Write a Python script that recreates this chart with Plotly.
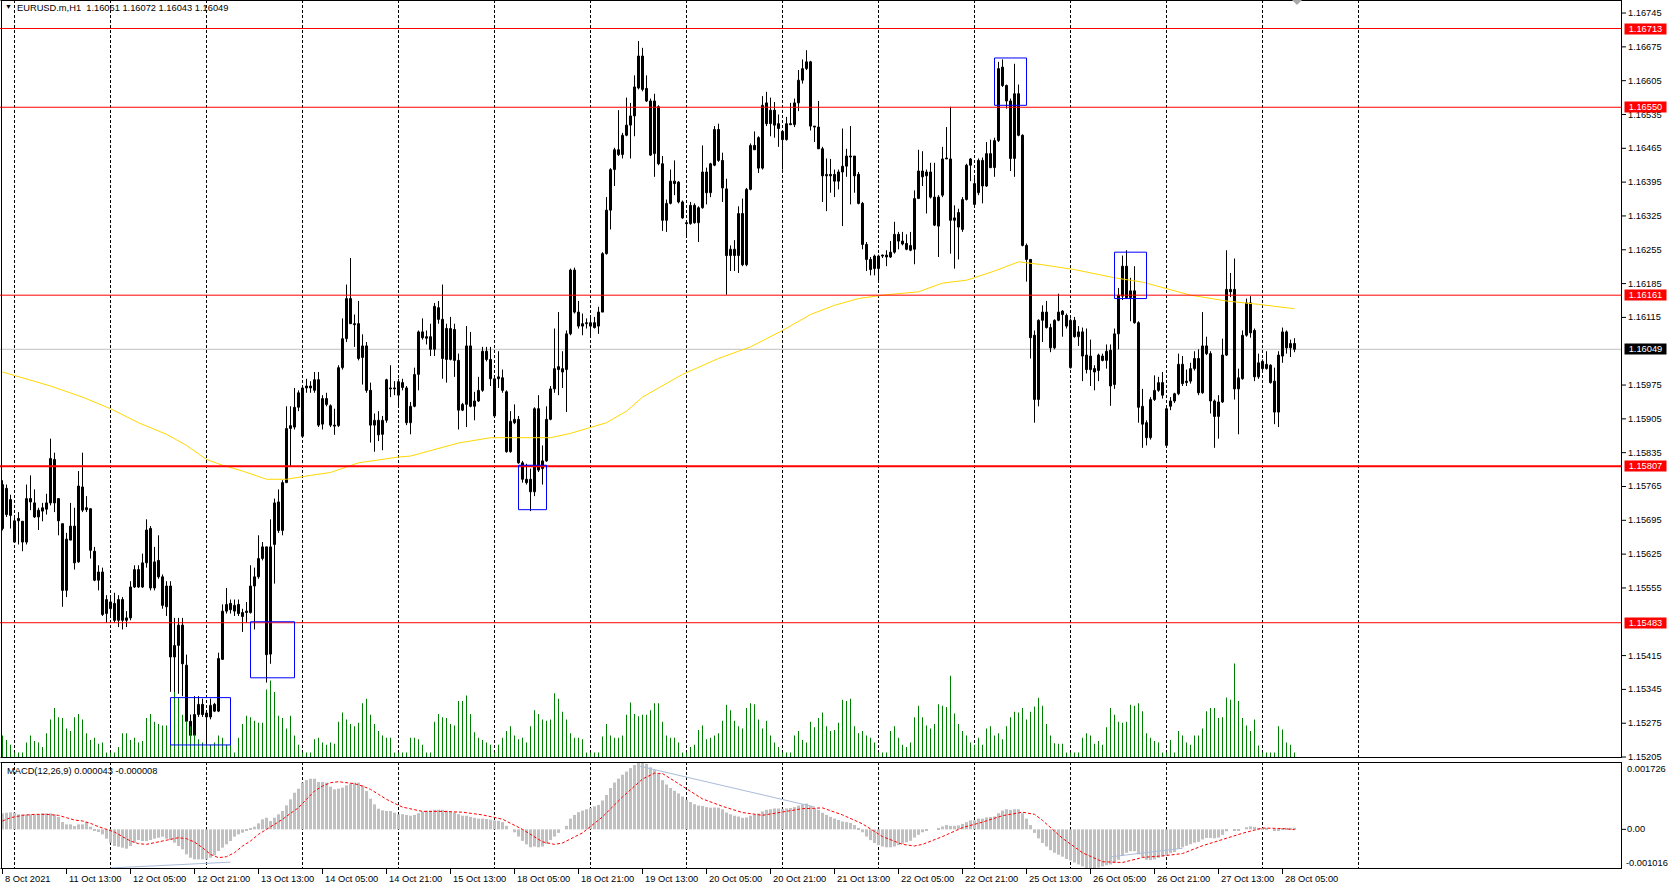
import plotly.graph_objects as go
from datetime import datetime, timedelta

# ---------------- DATA (prices in points, 1 point = 0.00001) ----------------
open_pts = [
115678,115761,115705,115650,115694,115693,115650,115740,115731,115702,
115714,115718,115731,115821,115740,115688,115550,115654,115683,115609,
115764,115721,115719,115631,115571,115588,115502,115512,115523,115488,
115531,115488,115493,115557,115593,115557,115607,115678,115555,115612,
115578,115516,115559,115412,115436,115478,115395,115279,115250,115293,
115314,115296,115288,115314,115300,115407,115507,115523,115507,115521,
115504,115504,115504,115559,115578,115616,115640,115418,115645,115733,
115674,115773,115885,115888,115929,115869,115969,115973,115964,115986,
115894,115947,115932,115892,115891,116011,116071,116154,116102,116102,
116032,116056,115964,115892,115902,115873,115902,115967,115969,115954,
115980,115969,115897,115931,115997,116085,116075,116075,116049,116135,
116111,116092,116028,116090,116026,115923,115935,116056,115931,115942,
115964,116045,116028,115911,115988,115990,115961,115837,115897,115904,
115814,115780,115780,115754,115926,115802,115818,115904,115967,116013,
116002,116007,116081,116213,116126,116097,116102,116104,116104,116097,
116126,116247,116337,116421,116462,116452,116492,116513,116532,116590,
116656,116589,116563,116454,116551,116433,116316,116351,116397,116395,
116354,116311,116309,116347,116311,116342,116416,116373,116430,116504,
116440,116381,116243,116256,116243,116330,116224,116380,116471,116487,
116424,116559,116516,116544,116516,116500,116483,116516,116514,116559,
116606,116630,116644,116511,116509,116464,116408,116411,116411,116397,
116416,116428,116449,116449,116411,116351,116266,116235,116216,116216,
116242,116244,116240,116250,116287,116273,116268,116254,116256,116361,
116418,116408,116416,116364,116304,116368,116443,116443,116316,116332,
116297,116359,116430,116392,116373,116440,116387,116454,116425,116481,
116633,116595,116563,116444,116578,116492,116264,116235,116078,115945,
116109,116126,116094,116052,116109,116128,116119,116011,116109,116075,
116085,116037,116035,116009,116005,116035,116026,116047,115976,116081,
116159,116221,116156,116170,116104,115931,115897,115866,115945,115964,
115980,115850,115931,115942,115957,116018,115980,115983,116009,116030,
115959,116056,116040,115942,115910,115940,116037,116173,116173,115967,
115988,116078,116145,116088,115992,116024,116009,116016,115983,115919,
116035,116085,116052,116061]

high_pts = [
115778,115769,115748,115702,115712,115693,115769,115788,115759,115721,
115731,115750,115864,115835,115740,115688,115669,115731,115721,115797,
115835,115745,115719,115640,115602,115597,115540,115536,115545,115540,
115536,115507,115569,115602,115602,115626,115697,115683,115640,115664,
115583,115569,115569,115493,115493,115493,115417,115293,115331,115331,
115326,115302,115326,115317,115421,115521,115555,115531,115531,115531,
115512,115526,115602,115597,115664,115650,115640,115697,115740,115759,
115778,115931,115931,115969,115964,115973,115988,115983,116002,116002,
115954,115959,115935,115926,116016,116113,116183,116238,116121,116149,
116080,116064,115980,115916,115921,115911,115988,116016,115983,115988,
115988,115973,115940,116011,116088,116113,116088,116102,116145,116149,
116183,116102,116116,116102,116040,115938,116097,116085,115961,115992,
116054,116054,116054,115988,116045,116007,115964,115921,115935,115911,
115818,115812,115802,115929,115954,115850,115931,115973,116092,116126,
116045,116088,116216,116218,116149,116123,116113,116116,116116,116137,
116250,116364,116424,116466,116544,116497,116570,116559,116616,116687,
116673,116616,116568,116578,116554,116449,116359,116421,116440,116397,
116357,116311,116354,116351,116345,116471,116425,116435,116511,116516,
116456,116402,116264,116275,116345,116361,116383,116475,116500,116490,
116573,116582,116570,116561,116535,116502,116530,116559,116568,116627,
116649,116668,116646,116511,116563,116468,116444,116443,116421,116421,
116506,116464,116511,116449,116416,116354,116271,116240,116245,116245,
116245,116254,116273,116313,116292,116292,116287,116292,116378,116462,
116459,116421,116435,116435,116368,116468,116509,116551,116347,116340,
116364,116433,116445,116406,116444,116446,116478,116483,116487,116644,
116649,116597,116568,116640,116597,116494,116268,116235,116088,116111,
116140,116149,116102,116111,116164,116130,116123,116113,116116,116097,
116094,116092,116069,116016,116040,116040,116059,116059,116092,116176,
116243,116254,116197,116221,116107,115967,115902,115950,115995,115992,
116002,115929,115950,115959,116040,116035,116007,116021,116045,116049,
116126,116075,116045,115945,115954,116071,116254,116207,116237,116009,
116088,116154,116159,116092,116040,116028,116045,116018,116011,116045,
116094,116088,116069,116072]

low_pts = [
115674,115702,115678,115650,115645,115631,115645,115716,115700,115675,
115693,115707,115726,115712,115664,115516,115536,115654,115593,115607,
115712,115712,115616,115569,115550,115497,115483,115493,115483,115474,
115469,115474,115488,115555,115555,115555,115597,115550,115550,115574,
115512,115497,115340,115331,115336,115331,115274,115240,115245,115288,
115288,115226,115283,115298,115298,115407,115502,115502,115497,115497,
115464,115483,115502,115469,115574,115612,115359,115398,115564,115669,
115664,115773,115807,115883,115921,115866,115959,115959,115959,115888,
115883,115931,115888,115872,115888,116007,116064,116102,116054,116026,
115976,115959,115856,115837,115859,115840,115897,115950,115954,115931,
115964,115892,115873,115929,115964,116069,116059,116035,116035,116102,
115988,115980,116026,115992,115883,115921,115888,115929,115902,115940,
115961,116024,115973,115910,115969,115959,115835,115835,115894,115812,
115773,115769,115714,115745,115795,115769,115816,115902,115959,115954,
115969,115919,116078,116123,116092,116078,116092,116075,116092,116081,
116126,116245,116297,116387,116449,116444,116490,116444,116490,116587,
116583,116561,116449,116406,116430,116294,116292,116349,116368,116351,
116319,116283,116307,116309,116271,116340,116349,116364,116428,116437,
116354,116162,116211,116211,116207,116221,116221,116378,116462,116414,
116421,116511,116490,116487,116468,116421,116481,116513,116509,116542,
116599,116627,116502,116478,116464,116354,116335,116373,116364,116380,
116304,116406,116349,116373,116349,116256,116211,116202,116202,116192,
116238,116221,116238,116247,116256,116264,116254,116252,116225,116361,
116387,116330,116361,116304,116240,116364,116443,116247,116216,116235,
116292,116357,116397,116345,116368,116351,116385,116424,116406,116478,
116592,116547,116418,116406,116490,116262,116189,116030,115897,115931,
116064,116092,116043,116049,116107,116075,116092,116009,116073,116056,
115983,115999,115973,115964,115983,116024,116009,115932,115967,116049,
116151,116154,116107,116102,115897,115845,115850,115862,115942,115961,
115947,115847,115923,115938,115954,115973,115973,115978,116005,115954,
115957,116037,115916,115845,115864,115938,116035,116157,115945,115873,
115986,116075,116073,115983,115988,116005,116007,115978,115894,115888,
116021,116040,116033,116043]

close_pts = [
115769,115707,115738,115694,115699,115650,115740,115733,115702,115716,
115721,115731,115823,115731,115694,115550,115656,115683,115607,115766,
115716,115717,115633,115571,115588,115500,115531,115526,115488,115531,
115488,115493,115557,115593,115557,115607,115675,115555,115609,115578,
115519,115559,115412,115436,115478,115398,115279,115250,115293,115314,
115293,115288,115312,115300,115409,115507,115521,115510,115519,115502,
115496,115507,115559,115578,115616,115640,115417,115640,115731,115674,
115773,115885,115891,115929,115959,115969,115973,115969,115986,115892,
115947,115935,115892,115890,116011,116071,116154,116102,116100,116030,
116056,115964,115892,115902,115872,115902,115986,115969,115967,115982,
115970,115897,115931,115997,116085,116073,116072,116049,116138,116111,
116030,116028,116092,116026,115923,115935,116056,115931,115942,115964,
116045,116028,115988,115988,115992,115964,115837,115900,115904,115814,
115780,115773,115754,115926,115799,115818,115904,115967,116009,116007,
116009,116081,116213,116126,116097,116102,116104,116097,116094,116126,
116247,116337,116421,116462,116452,116492,116513,116532,116592,116656,
116587,116563,116451,116563,116433,116316,116351,116397,116392,116354,
116321,116309,116347,116311,116342,116416,116373,116433,116504,116440,
116383,116243,116256,116243,116330,116224,116380,116471,116462,116424,
116554,116516,116544,116513,116506,116483,116516,116514,116559,116606,
116630,116644,116511,116509,116464,116408,116411,116408,116397,116416,
116428,116449,116447,116408,116351,116266,116235,116214,116242,116242,
116244,116240,116250,116287,116273,116267,116256,116264,116361,116418,
116406,116416,116364,116306,116364,116443,116445,116316,116321,116302,
116359,116430,116443,116349,116440,116387,116454,116425,116481,116630,
116595,116563,116444,116578,116492,116264,116235,116073,115945,116109,
116126,116094,116052,116109,116126,116121,116097,116109,116075,116085,
116035,116007,116007,116002,116037,116026,116045,115973,116081,116161,
116221,116156,116170,116104,115929,115894,115866,115945,115964,115980,
115954,115926,115942,115957,116018,115978,115983,116009,116030,115959,
116056,116040,115942,115910,115940,116037,116173,116168,115967,115990,
116078,116145,116083,115992,116021,116009,116018,115980,115919,116037,
116085,116052,116061,116049]

tick_volume = [
49,39,29,12,12,12,34,49,37,34, 24,54,84,109,89,87,64,59,89,96,
84,54,39,44,31,34,12,12,12,24, 54,54,39,44,34,37,87,96,79,74,
71,71,111,144,131,94,81,69,51,41, 34,29,29,34,49,44,29,29,12,44,
74,92,89,81,77,77,149,169,144,92, 87,64,92,49,29,12,12,12,41,44,
34,29,34,31,79,99,84,74,69,77, 119,129,94,74,59,49,44,44,12,12,
12,12,44,44,41,29,12,12,79,96, 89,87,74,71,124,124,136,96,56,44,
39,34,29,12,29,44,59,69,49,41, 44,34,69,104,96,84,81,84,141,129,
101,84,54,44,44,41,12,12,12,12, 47,74,49,44,44,49,94,121,96,91,
94,94,104,119,119,79,49,44,44,34, 12,12,24,29,61,71,41,44,49,54,
81,116,104,81,69,64,109,119,117,84, 64,81,49,34,24,12,12,12,49,59,
39,34,79,67,87,99,69,59,61,77, 127,124,129,69,54,59,49,44,34,12,
12,12,59,69,44,29,24,34,89,114, 89,71,64,74,117,114,111,179,97,74,
59,49,34,29,44,29,64,69,49,54, 41,69,89,101,99,109,84,101,112,131,
114,74,49,32,31,31,12,12,12,12, 44,54,49,31,37,29,67,109,94,79,
77,79,116,114,119,102,54,44,37,34, 12,12,39,12,59,49,34,29,49,49,
64,102,109,109,87,89,132,127,206,124, 87,71,59,84,27,12,12,12,12,69,
62,34,29,12]

# MACD(12,26,9) main histogram, in millionths
macd_main_u = [
410,427,436,427,384,384,384,384,384,384, 410,410,410,384,316,188,128,128,85,128,
128,188,68,-26,-68,-128,-239,-342,-427,-444, -470,-495,-427,-342,-273,-299,-299,-273,-239,-214,
-188,-239,-273,-342,-427,-512,-641,-726,-769,-769, -769,-769,-726,-666,-555,-470,-384,-299,-188,-128,
-85,-43,17,68,154,256,299,214,299,384, 470,615,769,939,1042,1196,1264,1298,1298,1213,
1213,1196,1093,1025,1042,1068,1127,1170,1196,1196, 1127,982,786,641,529,487,470,470,427,384,
390,370,350,370,415,460,480,480,500,505, 500,480,460,435,390,350,350,320,295,275,
275,265,250,230,220,185,90,0,-75,-185, -295,-385,-460,-440,-460,-440,-370,-275,-185,-90,
0,90,275,370,440,480,515,550,590,625, 740,880,1060,1200,1300,1400,1480,1570,1650,1726,
1715,1680,1590,1520,1420,1260,1150,1060,990,920, 840,760,700,645,610,600,570,555,560,555,
515,430,385,350,330,295,305,350,385,405, 460,500,515,535,535,525,535,545,570,610,
645,660,600,550,500,425,370,320,275,240, 200,185,165,110,35,-75,-185,-275,-350,-405,
-440,-460,-460,-440,-405,-370,-330,-295,-210,-140, -75,-30,0,0,20,75,110,90,90,100,
140,185,230,230,275,275,305,315,330,415, 480,515,500,515,515,415,275,110,-90,-230,
-350,-440,-535,-600,-650,-700,-760,-800,-850,-900, -950,-990,-1016,-1000,-980,-950,-920,-900,-860,-780,
-680,-600,-560,-560,-640,-720,-780,-790,-770,-730, -700,-670,-610,-580,-500,-460,-420,-380,-340,-320,
-260,-220,-220,-230,-210,-140,-50,0,-40,-30, 0,55,75,65,40,30,20,0,-20,-20,
20,40,40,43]

signal_bar = [0,2,5,8,11,14,16,18,20,22,24,26,28,30,32,34,36,38,40,42,44,46,48,50,52,54,56,58,60,62,
              64,66,68,70,72,74,76,78,80,82,84,86,88,90,92,94,96,98,
              100,105,110,115,120,125,130,135,138,140,145,150,155,160,163,165,170,175,180,185,
              190,195,200,205,210,215,220,225,228,230,235,240,245,250,255,258,260,265,270,275,
              280,285,290,295,300,305,310,315,320,323]
signal_u = [214,299,359,384,384,359,299,239,214,154,68,0,-68,-188,-299,-367,-384,-342,-299,-239,
            -214,-239,-325,-470,-641,-726,-700,-598,-427,-299,-128,0,128,256,410,555,769,982,1110,1196,
            1221,1196,1170,1110,1025,897,769,666,
            570,460,460,440,370,260,0,-320,-385,-350,-90,320,830,1290,1440,1430,1100,780,590,430,
            360,440,530,550,370,140,-185,-385,-425,-385,-185,45,185,350,440,385,230,-230,-600,-830,
            -850,-720,-680,-620,-420,-260,-100,35,20,-8]

ma_bar = [0,12,20,27,34,41,46,51,55,60,66,71,77,82,89,99,102,106,114,122,130,137,142,147,151,156,160,164,170,179,
          187,195,202,208,214,220,229,235,241,248,254,260,268,278,285,297,306,314,323]
ma_pts = [116002,115973,115950,115926,115897,115873,115850,115821,115809,115797,115780,115780,115788,115794,115814,
          115826,115828,115837,115855,115866,115866,115866,115875,115887,115897,115921,115950,115969,115997,116030,
          116054,116088,116121,116140,116154,116161,116168,116186,116192,116211,116230,116224,116214,116197,116188,
          116161,116149,116142,116133]

level_prices = [1.16713, 1.16550, 1.16161, 1.15807, 1.15483]
bid_price = 1.16049
box_bar0 = [42, 62, 129, 248, 278]
box_bar1 = [57, 73, 136, 256, 286]
box_top = [1.15328, 1.15485, 1.15809, 1.16652, 1.16250]
box_bottom = [1.15230, 1.15369, 1.15717, 1.16554, 1.16154]
tl_bar0 = [27, 159, 277]
tl_bar1 = [57, 203, 295]
tl_val0 = [-0.00099, 0.001625, -0.000705]
tl_val1 = [-0.00084, 0.000574, -0.000484]
price_ticks_start, price_tick_step, price_tick_count = 1.15205, 0.0007, 23
symbol_text = "EURUSD.m,H1"
macd_text = "MACD(12,26,9) 0.000043 -0.000008"

# ---------------- derived ----------------
PT = 1e-5
O = [v * PT for v in open_pts]
C = [v * PT for v in close_pts]
Hh = [max(h * PT, o, c) for h, o, c in zip(high_pts, O, C)]
Ll = [min(l * PT, o, c) for l, o, c in zip(low_pts, O, C)]
n = len(C)
idx = list(range(n))

times = []
t = datetime(2021, 10, 8, 21)
while len(times) < n + 100:
    if t.weekday() < 5:
        times.append(t)
    t += timedelta(hours=1)

# ---------------- geometry (pixels) ----------------
FIG_W, FIG_H = 1669, 885
PLOT_R, PLOT_B = 1622, 869
MAIN_B, MACD_T = 758, 762
BAR_PX, X0_PX = 4.0, 2.5
x_range = [-X0_PX / BAR_PX, (PLOT_R - X0_PX) / BAR_PX]
main_dom = [1 - MAIN_B / PLOT_B, 1]
macd_dom = [0, 1 - MACD_T / PLOT_B]
main_range = [1.15203, 1.16772]
macd_range = [-0.001016, 0.001726]
vol_range = [0, MAIN_B * 2.178]

def px_x(px):
    return px / PLOT_R

def px_y(py):
    return 1 - py / PLOT_B

FONT = "Liberation Sans, Arial, sans-serif"
FS = 9.3

fig = go.Figure()

# volumes
fig.add_trace(go.Bar(x=idx, y=tick_volume, width=0.25, marker=dict(color="#008000", line=dict(width=0)),
                     yaxis="y3", hoverinfo="skip"))
# wicks
wx, wy = [], []
for i in idx:
    wx += [i, i, None]
    wy += [Ll[i], Hh[i], None]
fig.add_trace(go.Scatter(x=wx, y=wy, mode="lines", line=dict(color="black", width=1), hoverinfo="skip"))
# bodies
base = [min(o, c) for o, c in zip(O, C)]
hgt = [max(abs(c - o), 0.5e-5) for o, c in zip(O, C)]
cols = ["white" if c >= o else "black" for o, c in zip(O, C)]
fig.add_trace(go.Bar(x=idx, y=hgt, base=base, width=0.5,
                     marker=dict(color=cols, line=dict(color="black", width=1)), hoverinfo="skip"))
# moving average
fig.add_trace(go.Scatter(x=ma_bar, y=[v * PT for v in ma_pts], mode="lines",
                         line=dict(color="#FFD700", width=1), hoverinfo="skip"))
# MACD histogram + signal
fig.add_trace(go.Bar(x=idx, y=[v * 1e-6 for v in macd_main_u], width=0.75,
                     marker=dict(color="#C0C0C0", line=dict(width=0)), yaxis="y2", hoverinfo="skip"))
fig.add_trace(go.Scatter(x=signal_bar, y=[v * 1e-6 for v in signal_u], mode="lines", yaxis="y2",
                         line=dict(color="#FF0000", width=1, dash="3px,2px"), hoverinfo="skip"))

shapes = []
annos = []

# grid (daily separators)
grid_bars = [i for i, tt in enumerate(times) if tt.hour == 0 and i < n + 16]
for g in grid_bars:
    for y0, y1 in [(px_y(0), px_y(MAIN_B)), (px_y(MACD_T), px_y(PLOT_B))]:
        shapes.append(dict(type="line", xref="x", yref="paper", x0=g, x1=g, y0=y0, y1=y1,
                           line=dict(color="black", width=1, dash="3px,2px"), layer="below"))

# horizontal levels
for lp in level_prices:
    w = 2 if abs(lp - 1.15807) < 1e-6 else 1
    shapes.append(dict(type="line", xref="paper", yref="y", x0=0, x1=1, y0=lp, y1=lp,
                       line=dict(color="#FF0000", width=w), layer="above"))
shapes.append(dict(type="line", xref="paper", yref="y", x0=0, x1=1, y0=bid_price, y1=bid_price,
                   line=dict(color="#C0C0C0", width=1), layer="below"))

# rectangles
for b0, b1, bt, bb in zip(box_bar0, box_bar1, box_top, box_bottom):
    shapes.append(dict(type="rect", xref="x", yref="y", x0=b0, x1=b1, y0=bb, y1=bt,
                       line=dict(color="#0000FF", width=1), fillcolor="rgba(0,0,0,0)", layer="above"))

# MACD trend lines
for a0, a1, v0, v1 in zip(tl_bar0, tl_bar1, tl_val0, tl_val1):
    shapes.append(dict(type="line", xref="x", yref="y2", x0=a0, x1=a1, y0=v0, y1=v1,
                       line=dict(color="#A9BCD9", width=1), layer="above"))

# frames
frame = dict(color="black", width=1)
for (a, b) in [((0.5, 0.5), (PLOT_R - 0.5, 0.5)), ((0.5, MAIN_B - 0.5), (PLOT_R - 0.5, MAIN_B - 0.5)),
               ((0.5, MACD_T + 0.5), (PLOT_R - 0.5, MACD_T + 0.5)), ((0.5, PLOT_B - 0.5), (PLOT_R - 0.5, PLOT_B - 0.5)),
               ((1.5, 0), (1.5, MAIN_B)), ((1.5, MACD_T), (1.5, PLOT_B)),
               ((PLOT_R - 0.5, 0), (PLOT_R - 0.5, MAIN_B)), ((PLOT_R - 0.5, MACD_T), (PLOT_R - 0.5, PLOT_B))]:
    shapes.append(dict(type="line", xref="paper", yref="paper", x0=px_x(a[0]), y0=px_y(a[1]),
                       x1=px_x(b[0]), y1=px_y(b[1]), line=frame, layer="above"))

# chart-shift marker (small grey triangle at the top edge)
tx, ty = px_x, px_y
shapes.append(dict(type="path", xref="paper", yref="paper",
                   path=f"M {tx(1292)},{ty(0)} L {tx(1302)},{ty(0)} L {tx(1297)},{ty(5)} Z",
                   fillcolor="#A9A9A9", line=dict(width=0), layer="above"))

# price axis labels
special = level_prices + [bid_price]
for k in range(price_tick_count):
    v = round(price_ticks_start + k * price_tick_step, 5)
    if min(abs(v - s) for s in special) < 0.0001:
        continue
    shapes.append(dict(type="line", xref="paper", yref="y", x0=1, x1=px_x(PLOT_R + 4), y0=v, y1=v,
                       line=dict(color="black", width=1)))
    annos.append(dict(xref="paper", yref="y", x=1, y=v, xanchor="left", yanchor="middle", xshift=5,
                      text=f"{v:.5f}", showarrow=False, font=dict(family=FONT, size=FS, color="black"),
                      borderpad=0))
for sp in special:
    is_bid = abs(sp - bid_price) < 1e-9
    annos.append(dict(xref="paper", yref="y", x=1, y=sp, xanchor="left", yanchor="middle", xshift=2,
                      text=f"{sp:.5f}", showarrow=False, width=41, height=10, borderpad=0,
                      bgcolor="black" if is_bid else "#FF0000",
                      font=dict(family=FONT, size=FS, color="white")))

# MACD axis labels
annos.append(dict(xref="paper", yref="paper", x=1, y=px_y(MACD_T), xanchor="left", yanchor="top", xshift=4, yshift=-1,
                  text=f"{macd_range[1]:.6f}", showarrow=False, borderpad=0,
                  font=dict(family=FONT, size=FS, color="black")))
annos.append(dict(xref="paper", yref="y2", x=1, y=0, xanchor="left", yanchor="middle", xshift=4,
                  text="0.00", showarrow=False, borderpad=0, font=dict(family=FONT, size=FS, color="black")))
shapes.append(dict(type="line", xref="paper", yref="y2", x0=1, x1=px_x(PLOT_R + 4), y0=0, y1=0,
                   line=dict(color="black", width=1)))
annos.append(dict(xref="paper", yref="paper", x=1, y=0, xanchor="left", yanchor="bottom", xshift=3,
                  text=f"{macd_range[0]:.6f}", showarrow=False, borderpad=0,
                  font=dict(family=FONT, size=FS, color="black")))

# time labels
for i in range(0, n, 16):
    tt = times[i]
    txt = f"{tt.day} {tt:%b} {tt.year}" if i == 0 else f"{tt.day} {tt:%b %H:%M}"
    annos.append(dict(xref="x", yref="paper", x=i, y=0, xanchor="left", yanchor="top", xshift=1, yshift=-4,
                      text=txt, showarrow=False, borderpad=0, font=dict(family=FONT, size=FS, color="black")))
    shapes.append(dict(type="line", xref="x", yref="paper", x0=i, x1=i, y0=0, y1=px_y(PLOT_B + 5),
                       line=dict(color="black", width=1)))

# header texts
annos.append(dict(xref="paper", yref="paper", x=px_x(4), y=1, xanchor="left", yanchor="top", yshift=-2,
                  text="▼", showarrow=False, borderpad=0, font=dict(family=FONT, size=7, color="black")))
annos.append(dict(xref="paper", yref="paper", x=px_x(16), y=1, xanchor="left", yanchor="top", yshift=-2,
                  text=f"{symbol_text}\u00a0 {O[-1]:.5f} {Hh[-1]:.5f} {Ll[-1]:.5f} {C[-1]:.5f}",
                  showarrow=False, borderpad=0, font=dict(family=FONT, size=FS, color="black")))
annos.append(dict(xref="paper", yref="paper", x=px_x(6), y=px_y(MACD_T), xanchor="left", yanchor="top", yshift=-3,
                  text=macd_text, showarrow=False, borderpad=0, font=dict(family=FONT, size=FS, color="black")))

ax_off = dict(showgrid=False, zeroline=False, showticklabels=False, showline=False, ticks="", fixedrange=True)
fig.update_layout(
    width=FIG_W, height=FIG_H, margin=dict(l=0, r=FIG_W - PLOT_R, t=0, b=FIG_H - PLOT_B),
    paper_bgcolor="white", plot_bgcolor="white", showlegend=False, barmode="overlay",
    xaxis=dict(range=x_range, domain=[0, 1], **ax_off),
    yaxis=dict(range=main_range, domain=main_dom, **ax_off),
    yaxis2=dict(range=macd_range, domain=macd_dom, anchor="x", **ax_off),
    yaxis3=dict(range=vol_range, overlaying="y", anchor="x", **ax_off),
    shapes=shapes, annotations=annos, hovermode=False,
)
fig.write_html("out.html", config={"displayModeBar": False},
               post_script="document.body.style.margin='0';document.body.style.overflow='hidden';")
